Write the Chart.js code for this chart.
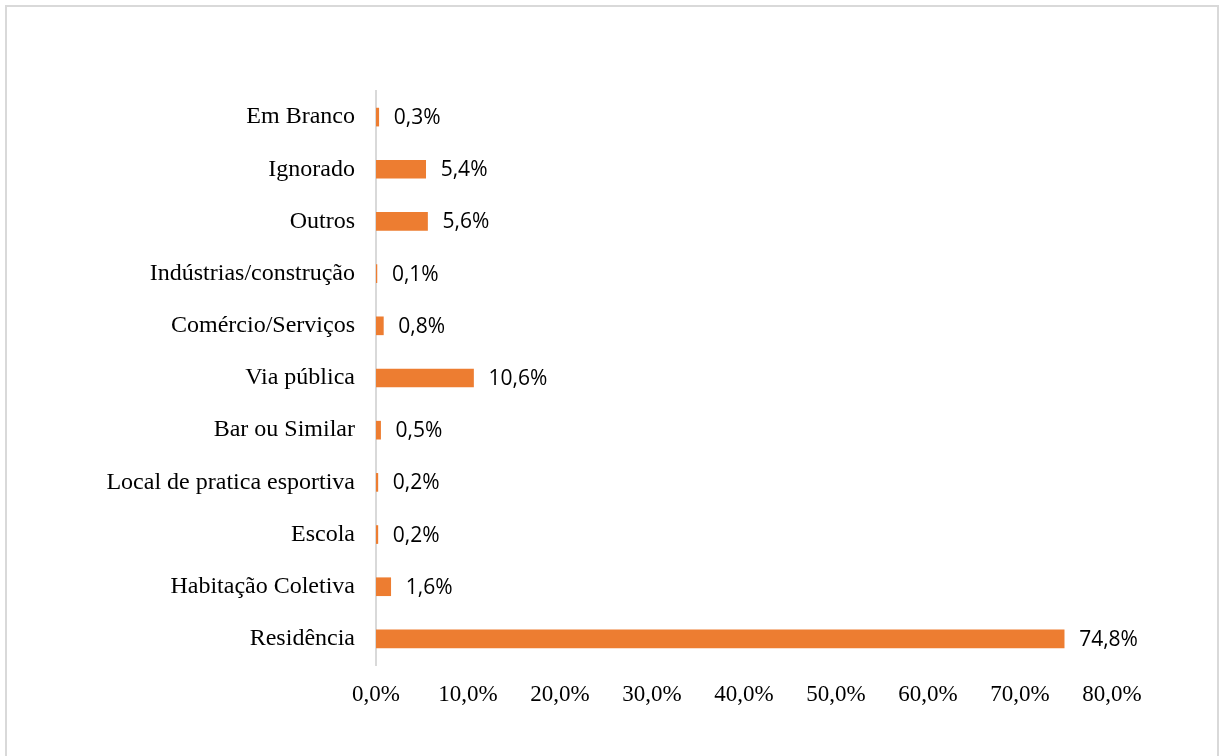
<!DOCTYPE html>
<html>
<head>
<meta charset="utf-8">
<script src="https://cdn.jsdelivr.net/npm/chart.js@4/dist/chart.umd.min.js"></script>
<style>
  html, body { margin: 0; padding: 0; background: #ffffff; overflow: hidden; }
  #wrap { position: relative; width: 1224px; height: 756px; }
  #frame { position: absolute; left: 5px; top: 5px; width: 1214px; height: 800px; border: 2px solid #d9d9d9; box-sizing: border-box; }
  #chart { position: absolute; left: 0; top: 0; }
</style>
</head>
<body>
<div id="wrap">
  <div id="frame"></div>
  <canvas id="chart" width="1224" height="756"></canvas>
</div>
<script>
var local_labels = [
    'Em Branco',
    'Ignorado',
    'Outros',
    'Indústrias/construção',
    'Comércio/Serviços',
    'Via pública',
    'Bar ou Similar',
    'Local de pratica esportiva',
    'Escola',
    'Habitação Coletiva',
    'Residência'
];
var local_values = [0.3, 5.4, 5.6, 0.1, 0.8, 10.6, 0.5, 0.2, 0.2, 1.6, 74.8];
var x_ticks = [0, 10, 20, 30, 40, 50, 60, 70, 80];

function pct(v, digits) {
    return v.toFixed(digits).replace('.', ',') + '%';
}

// value labels to the right of each bar
var value_labels = {
    id: 'value_labels',
    afterDatasetsDraw: function (chart) {
        var ctx = chart.ctx;
        var meta = chart.getDatasetMeta(0);
        ctx.save();
        ctx.font = '21px "Open Sans", sans-serif';
        ctx.fillStyle = '#000000';
        ctx.textAlign = 'left';
        ctx.textBaseline = 'middle';
        meta.data.forEach(function (bar, i) {
            ctx.fillText(pct(local_values[i], 1), bar.x + 15, bar.y + 1);
        });
        ctx.restore();
    }
};

var ctx = document.getElementById('chart').getContext('2d');
var myChart = new Chart(ctx, {
    type: 'bar',
    data: {
        labels: local_labels,
        datasets: [{
            data: local_values,
            backgroundColor: '#ed7d31',
            borderWidth: 0,
            barThickness: 18
        }]
    },
    options: {
        indexAxis: 'y',
        responsive: false,
        animation: false,
        layout: { padding: { top: 91, right: 112, bottom: 41, left: 0 } },
        plugins: {
            legend: { display: false },
            tooltip: { enabled: false }
        },
        scales: {
            x: {
                min: 0,
                max: 80,
                afterBuildTicks: function (scale) {
                    scale.ticks = x_ticks.map(function (v) { return { value: v }; });
                },
                afterFit: function (scale) { scale.height = 50; },
                grid: { display: false },
                border: { display: false },
                ticks: {
                    padding: 8,
                    color: '#000000',
                    font: { family: '"Liberation Serif", "Times New Roman", serif', size: 23 },
                    callback: function (v) { return pct(v, 1); }
                }
            },
            y: {
                afterFit: function (scale) { scale.width = 376; },
                grid: { display: false },
                border: { display: true, color: '#d9d9d9', width: 2 },
                ticks: {
                    padding: 13,
                    color: '#000000',
                    font: { family: '"Liberation Serif", "Times New Roman", serif', size: 24 }
                }
            }
        }
    },
    plugins: [value_labels]
});
</script>
</body>
</html>
